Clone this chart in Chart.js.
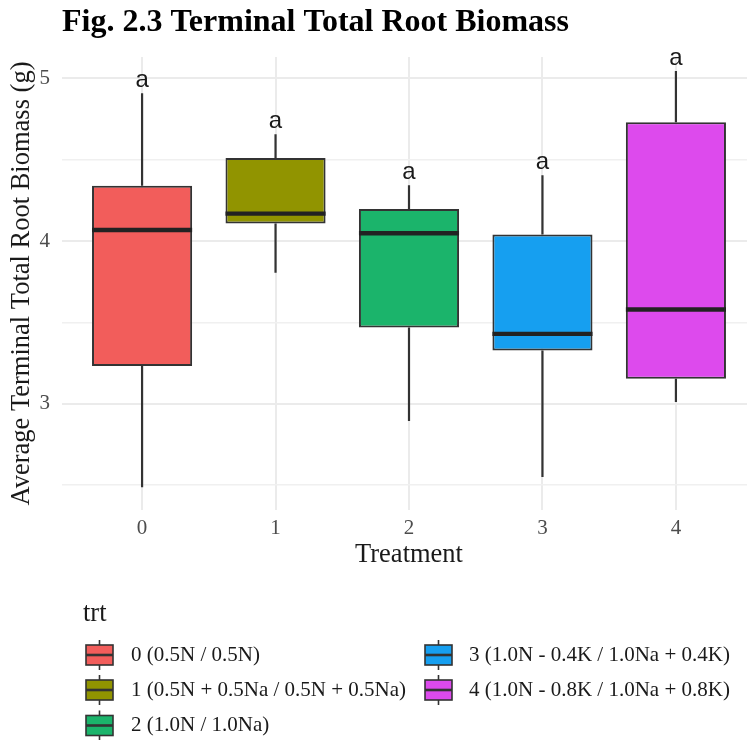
<!DOCTYPE html>
<html>
<head>
<meta charset="utf-8">
<script src="https://cdn.jsdelivr.net/npm/chart.js@4"></script>
<style>
  html, body { margin: 0; padding: 0; background: #ffffff; overflow: hidden; }
  canvas { display: block; }
</style>
</head>
<body>
<canvas id="chart" width="760" height="740"></canvas>
<script>
// Treatment groups on the x axis
const categories = ['0', '1', '2', '3', '4'];
const legendLabels = [
  '0 (0.5N / 0.5N)',
  '1 (0.5N + 0.5Na / 0.5N + 0.5Na)',
  '2 (1.0N / 1.0Na)',
  '3 (1.0N - 0.4K / 1.0Na + 0.4K)',
  '4 (1.0N - 0.8K / 1.0Na + 0.8K)'
];
// Box-plot summaries of root biomass (g)
const whiskerLow  = [2.488, 3.805, 2.895, 2.550, 3.012];
const lowerQuart  = [3.233, 4.108, 3.469, 3.328, 3.155];
const medians     = [4.068, 4.169, 4.048, 3.430, 3.580];
const upperQuart  = [4.340, 4.510, 4.197, 4.040, 4.730];
const whiskerHigh = [4.908, 4.656, 4.343, 4.405, 5.045];
// Significance group letters
const groupLetters = ['a', 'a', 'a', 'a', 'a'];
// Axis ticks
const yTicks = [2.5, 3, 3.5, 4, 4.5, 5];
const xTicks = [0, 1, 2, 3, 4];

const fillColors = ['#F25D5B', '#919400', '#1BB46B', '#169FF0', '#DD4AED'];
const INK = '#333333';
const SERIF = '"Liberation Serif", "Times New Roman", serif';
const SANS = '"Liberation Sans", Arial, sans-serif';

const boxData = categories.map((c, i) => ({ x: i, y: [lowerQuart[i], upperQuart[i]] }));

// whiskers behind the boxes, medians and letters on top
const boxExtras = {
  id: 'boxExtras',
  beforeDatasetsDraw(chart) {
    const { ctx, scales: { x, y } } = chart;
    ctx.save();
    ctx.strokeStyle = INK;
    ctx.lineWidth = 2.2;
    categories.forEach((c, i) => {
      const px = x.getPixelForValue(i);
      ctx.beginPath();
      ctx.moveTo(px, y.getPixelForValue(whiskerHigh[i]));
      ctx.lineTo(px, y.getPixelForValue(upperQuart[i]));
      ctx.moveTo(px, y.getPixelForValue(lowerQuart[i]));
      ctx.lineTo(px, y.getPixelForValue(whiskerLow[i]));
      ctx.stroke();
    });
    ctx.restore();
  },
  afterDatasetsDraw(chart) {
    const { ctx, scales: { y } } = chart;
    const bars = chart.getDatasetMeta(0).data;
    ctx.save();
    ctx.strokeStyle = '#222222';
    ctx.lineWidth = 4.4;
    bars.forEach((bar, i) => {
      const py = y.getPixelForValue(medians[i]);
      ctx.beginPath();
      ctx.moveTo(bar.x - bar.width / 2, py);
      ctx.lineTo(bar.x + bar.width / 2, py);
      ctx.stroke();
    });
    ctx.fillStyle = '#1a1a1a';
    ctx.font = '24px ' + SANS;
    ctx.textAlign = 'center';
    ctx.textBaseline = 'middle';
    bars.forEach((bar, i) => {
      ctx.fillText(groupLetters[i], bar.x, y.getPixelForValue(whiskerHigh[i]) - 13);
    });
    ctx.restore();
  },
  afterDraw(chart) {
    // legend laid out column-wise in three rows
    const { ctx } = chart;
    ctx.save();
    ctx.fillStyle = '#1a1a1a';
    ctx.font = '26.5px ' + SERIF;
    ctx.textAlign = 'left';
    ctx.textBaseline = 'middle';
    ctx.fillText('trt', 83, 614);
    const colKey = [86, 425];
    const colText = [131, 469];
    const rowY = [655, 690, 725.5];
    ctx.font = '21px ' + SERIF;
    legendLabels.forEach((label, i) => {
      const col = Math.floor(i / 3), row = i % 3;
      const kx = colKey[col], cy = rowY[row];
      const kw = 27, kh = 20;
      ctx.strokeStyle = INK;
      ctx.lineWidth = 1.6;
      ctx.beginPath();
      ctx.moveTo(kx + kw / 2, cy - kh / 2 - 5);
      ctx.lineTo(kx + kw / 2, cy - kh / 2);
      ctx.moveTo(kx + kw / 2, cy + kh / 2);
      ctx.lineTo(kx + kw / 2, cy + kh / 2 + 5);
      ctx.stroke();
      ctx.fillStyle = fillColors[i];
      ctx.fillRect(kx, cy - kh / 2, kw, kh);
      ctx.strokeRect(kx, cy - kh / 2, kw, kh);
      ctx.lineWidth = 2.6;
      ctx.beginPath();
      ctx.moveTo(kx, cy);
      ctx.lineTo(kx + kw, cy);
      ctx.stroke();
      ctx.fillStyle = '#1a1a1a';
      ctx.fillText(label, colText[col], cy);
    });
    ctx.restore();
  }
};

new Chart(document.getElementById('chart'), {
  type: 'bar',
  data: {
    datasets: [{
      label: 'trt',
      data: boxData,
      backgroundColor: fillColors,
      borderColor: INK,
      borderWidth: 2,
      borderSkipped: false,
      categoryPercentage: 1,
      barPercentage: 0.75
    }]
  },
  options: {
    responsive: false,
    animation: false,
    devicePixelRatio: 1,
    layout: { padding: { top: 0, left: 0, right: 4, bottom: 167 } },
    plugins: {
      legend: { display: false },
      tooltip: { enabled: false },
      title: {
        display: true,
        text: 'Fig. 2.3 Terminal Total Root Biomass',
        align: 'start',
        fullSize: false,
        color: '#000000',
        font: { family: SERIF, size: 32, weight: 'bold', lineHeight: 1.2 },
        padding: { top: 4, bottom: 14.6 }
      }
    },
    scales: {
      x: {
        type: 'linear',
        min: -0.6,
        max: 4.6,
        offset: false,
        afterBuildTicks(scale) { scale.ticks = xTicks.map(v => ({ value: v })); },
        afterFit(scale) { scale.height = 63; },
        ticks: {
          callback: (v) => categories[v],
          color: '#4D4D4D',
          font: { family: SERIF, size: 21 },
          padding: 6,
          maxRotation: 0,
          autoSkip: false
        },
        grid: { color: '#EBEBEB', lineWidth: 2, drawTicks: false, offset: false },
        border: { display: false },
        title: {
          display: true,
          text: 'Treatment',
          color: '#1a1a1a',
          font: { family: SERIF, size: 26.5, lineHeight: 1.2 },
          padding: { top: 0, bottom: 2 }
        }
      },
      y: {
        type: 'linear',
        min: 2.348,
        max: 5.131,
        afterBuildTicks(scale) { scale.ticks = yTicks.map(v => ({ value: v })); },
        afterFit(scale) { scale.width = 62; },
        ticks: {
          callback: (v) => (Number.isInteger(v) ? String(v) : ''),
          color: '#4D4D4D',
          font: { family: SERIF, size: 21 },
          padding: 12
        },
        grid: {
          color: (c) => (Number.isInteger(c.tick.value) ? '#EBEBEB' : '#F0F0F0'),
          lineWidth: (c) => (Number.isInteger(c.tick.value) ? 2 : 1.6),
          drawTicks: false
        },
        border: { display: false },
        title: {
          display: true,
          text: 'Average Terminal Total Root Biomass (g)',
          color: '#1a1a1a',
          font: { family: SERIF, size: 26.5, lineHeight: 1.2 },
          padding: { top: 6, bottom: 0 }
        }
      }
    }
  },
  plugins: [boxExtras]
});
</script>
</body>
</html>
